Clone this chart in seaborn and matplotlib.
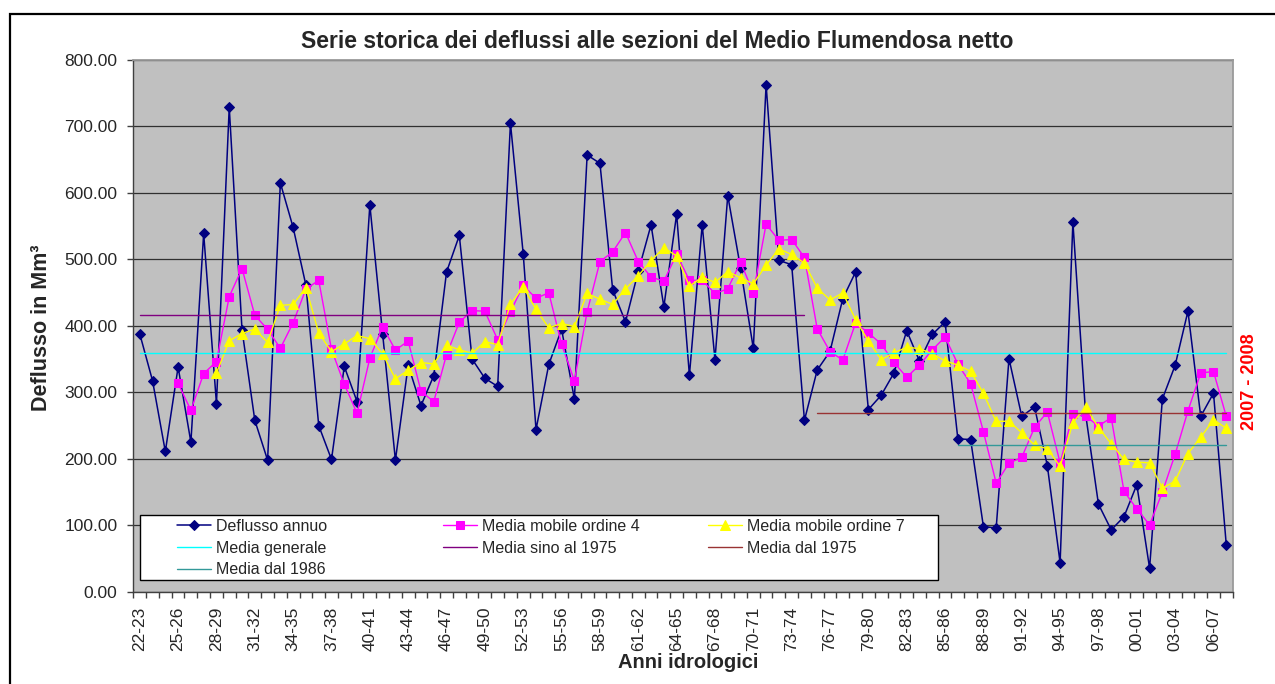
import matplotlib.pyplot as plt
import numpy as np
import pandas as pd
import seaborn as sns
from matplotlib.patches import Rectangle
from matplotlib.ticker import FixedLocator, FormatStrFormatter

sns.set_style("white")
plt.rcParams["font.family"] = ["Liberation Sans", "DejaVu Sans"]

# anni idrologici 1922-23 ... 2007-08
start_years = list(range(1922, 2008))
anni = [f"{y % 100:02d}-{(y + 1) % 100:02d}" for y in start_years]

# deflusso annuo (Mm3)
deflusso = [
    388, 317.5, 211, 338, 225, 539, 283, 729, 394, 258,
    198, 615, 548, 461, 250, 199, 339, 286, 582, 388,
    198, 340.6, 280, 325, 481, 536, 350, 321, 309, 705,
    508, 244, 342, 395, 290, 657, 644.6, 454, 406, 482,
    552, 428.7, 568, 325.6, 552, 349, 596, 487, 366, 763,
    498.5, 492, 258, 333.6, 361.5, 441, 481, 274, 295.5, 329,
    392.7, 347, 387, 406, 230, 229, 98, 96, 350.8, 263.8,
    278, 189.7, 43.6, 556, 266.5, 131.7, 93, 113, 161, 35.6,
    290, 340.6, 422, 263.8, 298.7, 70.5,
]

# medie (linee orizzontali)
media_generale = 359.0
media_sino_1975 = 416.2
media_dal_1975 = 268.7
media_dal_1986 = 220.0

df = pd.DataFrame({"anno": anni, "start": start_years, "deflusso": deflusso})
df["pos"] = np.arange(len(df))
df["mm4"] = df["deflusso"].rolling(4).mean()
df["mm7"] = df["deflusso"].rolling(7).mean()

fig = plt.figure(figsize=(12.75, 6.84), dpi=100)
ax = fig.add_axes([0.1046, 0.1349, 0.8622, 0.7774])
ax.set_facecolor("#C0C0C0")

sns.lineplot(data=df, x="pos", y="deflusso", ax=ax, color="#000080", lw=1.1,
             marker="D", markersize=4.6, markeredgecolor="#000080",
             label="Deflusso annuo")
sns.lineplot(data=df, x="pos", y="mm4", ax=ax, color="#FF00FF", lw=1.0,
             marker="s", markersize=5.5, markeredgecolor="#FF00FF",
             label="Media mobile ordine 4")
sns.lineplot(data=df, x="pos", y="mm7", ax=ax, color="#FFFF00", lw=1.0,
             marker="^", markersize=6.5, markeredgecolor="#FFFF00",
             label="Media mobile ordine 7")


def hline(mask, value, color, label):
    sub = df[mask]
    sns.lineplot(x=sub["pos"].to_numpy(), y=np.full(len(sub), value), ax=ax,
                 color=color, lw=1.0, label=label)


hline(df["start"] >= 0, media_generale, "#00FFFF", "Media generale")
hline(df["start"] <= 1974, media_sino_1975, "#800080", "Media sino al 1975")
hline(df["start"] >= 1975, media_dal_1975, "#993333", "Media dal 1975")
hline(df["start"] >= 1986, media_dal_1986, "#339999", "Media dal 1986")

handles, labels = ax.get_legend_handles_labels()
if ax.get_legend() is not None:
    ax.get_legend().remove()
ax.set_xlabel("")
ax.set_ylabel("")

ax.set_xlim(-0.5, len(df) - 0.5)
ax.set_ylim(0, 800)
ax.set_yticks(np.arange(0, 801, 100))
ax.yaxis.set_major_formatter(FormatStrFormatter("%.2f"))
ax.set_xticks(df["pos"][::3])
ax.set_xticklabels(df["anno"][::3], rotation=90)
ax.xaxis.set_minor_locator(FixedLocator(np.arange(-0.5, len(df), 1)))
ax.tick_params(axis="x", which="major", bottom=True, length=0, pad=10.5,
               labelsize=12.5)
ax.tick_params(axis="x", which="minor", bottom=True, length=4, width=1,
               color="#404040", direction="out")
ax.tick_params(axis="y", left=True, length=4, width=1, color="#404040",
               pad=7.5, labelsize=12.5, direction="out")
ax.grid(axis="y", color="#303030", lw=0.9)
ax.grid(axis="x", visible=False)
ax.set_axisbelow(True)
for side in ["left", "bottom"]:
    ax.spines[side].set_color("#404040")
    ax.spines[side].set_linewidth(1.0)
for side in ["top", "right"]:
    ax.spines[side].set_color("#9a9a9a")
    ax.spines[side].set_linewidth(1.3)

# testi
W, H = 1275, 684
fig.text(657 / W, 1 - 41 / H,
         "Serie storica dei deflussi alle sezioni del Medio Flumendosa netto",
         ha="center", va="center", fontsize=16.5, fontweight="bold")
fig.text(42 / W, 1 - 328 / H, "Deflusso in Mm³", rotation=90, ha="center",
         va="center", fontsize=15.5, fontweight="bold")
fig.text(688 / W, 1 - 662 / H, "Anni idrologici", ha="center", va="center",
         fontsize=14.5, fontweight="bold")
fig.text(1250 / W, 1 - 382 / H, "2007 - 2008", rotation=90, ha="center",
         va="center", fontsize=13, fontweight="bold", color="red")

# legenda: riquadro bianco + tre colonne
fig.add_artist(Rectangle((140 / W, 1 - 580 / H), 798 / W, 65 / H,
                         transform=fig.transFigure, facecolor="white",
                         edgecolor="black", lw=1.0, zorder=1))
lookup = dict(zip(labels, handles))
columns = [
    (177, ["Deflusso annuo", "Media generale", "Media dal 1986"]),
    (443, ["Media mobile ordine 4", "Media sino al 1975"]),
    (708, ["Media mobile ordine 7", "Media dal 1975"]),
]
for x0, names in columns:
    fig.legend([lookup[n] for n in names], names, loc="upper left",
               bbox_to_anchor=(x0 / W, 1 - 519 / H), frameon=False,
               borderpad=0, borderaxespad=0, fontsize=11.5, handlelength=2.1,
               handletextpad=0.35, labelspacing=0.42, numpoints=1)

# cornice
fig.add_artist(Rectangle((10 / W, -0.1), 1.5, 1.1 - 14 / H, fill=False,
                         edgecolor="black", lw=1.6,
                         transform=fig.transFigure))

fig.savefig("out.png", dpi=100)
